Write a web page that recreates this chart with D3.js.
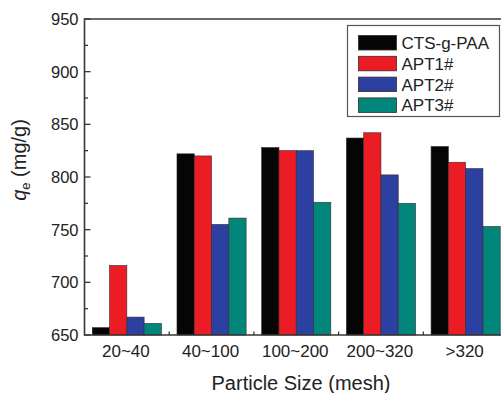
<!DOCTYPE html>
<meta charset="utf-8" />
<html>
<head>
<script src="https://d3js.org/d3.v7.min.js"></script>
<style>
  body { margin: 0; background: #fff; }
  text { font-family: "Liberation Sans", Arial, sans-serif; fill: #222; }
</style>
</head>
<body>
<script type="text/javascript">
// data
var categories = ['20~40', '40~100', '100~200', '200~320', '>320'];
var series = ['CTS-g-PAA', 'APT1#', 'APT2#', 'APT3#'];
var ctsValues  = [657, 822, 828, 837, 829];
var apt1Values = [716, 820, 825, 842, 814];
var apt2Values = [667, 755, 825, 802, 808];
var apt3Values = [661, 761, 776, 775, 753];
var yTicks = [650, 700, 750, 800, 850, 900, 950];
var yMinorTicks = [675, 725, 775, 825, 875, 925];
var colors = ['#050505', '#ec1c24', '#2b40a0', '#00867b'];

var allValues = [ctsValues, apt1Values, apt2Values, apt3Values];
var rows = [];
categories.forEach(function(c, i) {
  series.forEach(function(s, j) {
    rows.push({cat: c, series: s, value: allValues[j][i], color: colors[j]});
  });
});

var width = 501, height = 393;
var plotLeft = 84.5, plotRight = 508, plotTop = 19, plotBottom = 335;
var axisColor = '#3a3636';

var svg = d3.select('body').append('svg')
    .attr('width', width)
    .attr('height', height);

var x0 = d3.scaleBand()
    .domain(categories)
    .range([plotLeft, plotRight]);
var x1 = d3.scaleBand()
    .domain(series)
    .range([0, x0.bandwidth()])
    .paddingOuter(0.45);
var y = d3.scaleLinear()
    .domain([650, 950])
    .range([plotBottom, plotTop]);

// bars
svg.append('g')
    .selectAll('rect')
    .data(rows)
    .enter()
    .append('rect')
    .attr('x', function(d) { return x0(d.cat) + x1(d.series); })
    .attr('y', function(d) { return y(d.value); })
    .attr('width', x1.bandwidth())
    .attr('height', function(d) { return y(650) - y(d.value); })
    .attr('fill', function(d) { return d.color; })
    .attr('stroke', '#3a2a2a')
    .attr('stroke-width', 0.6);

// frame (left, top, bottom)
svg.append('path')
    .attr('d', 'M' + plotRight + ',' + plotTop + 'H' + plotLeft + 'V' + plotBottom + 'H' + plotRight)
    .attr('fill', 'none')
    .attr('stroke', axisColor)
    .attr('stroke-width', 1.6);

// y ticks, pointing inward
svg.append('g')
    .selectAll('line')
    .data(yTicks)
    .enter()
    .append('line')
    .attr('x1', plotLeft)
    .attr('x2', plotLeft + 6)
    .attr('y1', function(d) { return y(d); })
    .attr('y2', function(d) { return y(d); })
    .attr('stroke', axisColor)
    .attr('stroke-width', 1.3);
svg.append('g')
    .selectAll('line')
    .data(yMinorTicks)
    .enter()
    .append('line')
    .attr('x1', plotLeft)
    .attr('x2', plotLeft + 3.5)
    .attr('y1', function(d) { return y(d); })
    .attr('y2', function(d) { return y(d); })
    .attr('stroke', axisColor)
    .attr('stroke-width', 1.3);

svg.append('g')
    .selectAll('text')
    .data(yTicks)
    .enter()
    .append('text')
    .attr('x', plotLeft - 6)
    .attr('y', function(d) { return y(d); })
    .attr('dy', '0.36em')
    .attr('text-anchor', 'end')
    .style('font-size', '16.5px')
    .text(function(d) { return d; });

// x ticks at group boundaries
svg.append('g')
    .selectAll('line')
    .data(categories.slice(1))
    .enter()
    .append('line')
    .attr('x1', function(d) { return x0(d); })
    .attr('x2', function(d) { return x0(d); })
    .attr('y1', plotBottom)
    .attr('y2', plotBottom - 3.5)
    .attr('stroke', axisColor)
    .attr('stroke-width', 1.3);

svg.append('g')
    .selectAll('text')
    .data(categories)
    .enter()
    .append('text')
    .attr('x', function(d) { return x0(d) + x0.bandwidth() / 2 - 1; })
    .attr('y', 356.5)
    .attr('text-anchor', 'middle')
    .style('font-size', '17px')
    .text(function(d) { return d; });

// axis titles
svg.append('text')
    .attr('x', 301)
    .attr('y', 390)
    .attr('text-anchor', 'middle')
    .style('font-size', '20px')
    .text('Particle Size (mesh)');

var yTitle = svg.append('text')
    .attr('transform', 'translate(26,160) rotate(-90)')
    .attr('text-anchor', 'middle')
    .style('font-size', '20px');
yTitle.append('tspan').style('font-style', 'italic').text('q');
yTitle.append('tspan').attr('dy', 4).style('font-size', '13px').text('e');
yTitle.append('tspan').attr('dy', -4).text(' (mg/g)');

// legend
var legend = svg.append('g');
legend.append('rect')
    .attr('x', 347.5)
    .attr('y', 25.5)
    .attr('width', 152)
    .attr('height', 91)
    .attr('fill', '#fff')
    .attr('stroke', '#555')
    .attr('stroke-width', 1.2);
legend.selectAll('rect.sw')
    .data(series)
    .enter()
    .append('rect')
    .attr('class', 'sw')
    .attr('x', 358.5)
    .attr('y', function(d, i) { return 35.5 + i * 20.8; })
    .attr('width', 38)
    .attr('height', 14.5)
    .attr('fill', function(d, i) { return colors[i]; })
    .attr('stroke', '#3a2a2a')
    .attr('stroke-width', 0.8);
legend.selectAll('text')
    .data(series)
    .enter()
    .append('text')
    .attr('x', 401.5)
    .attr('y', function(d, i) { return 42.8 + i * 20.8; })
    .attr('dy', '0.36em')
    .style('font-size', '17px')
    .text(function(d) { return d; });
</script>
</body>
</html>
